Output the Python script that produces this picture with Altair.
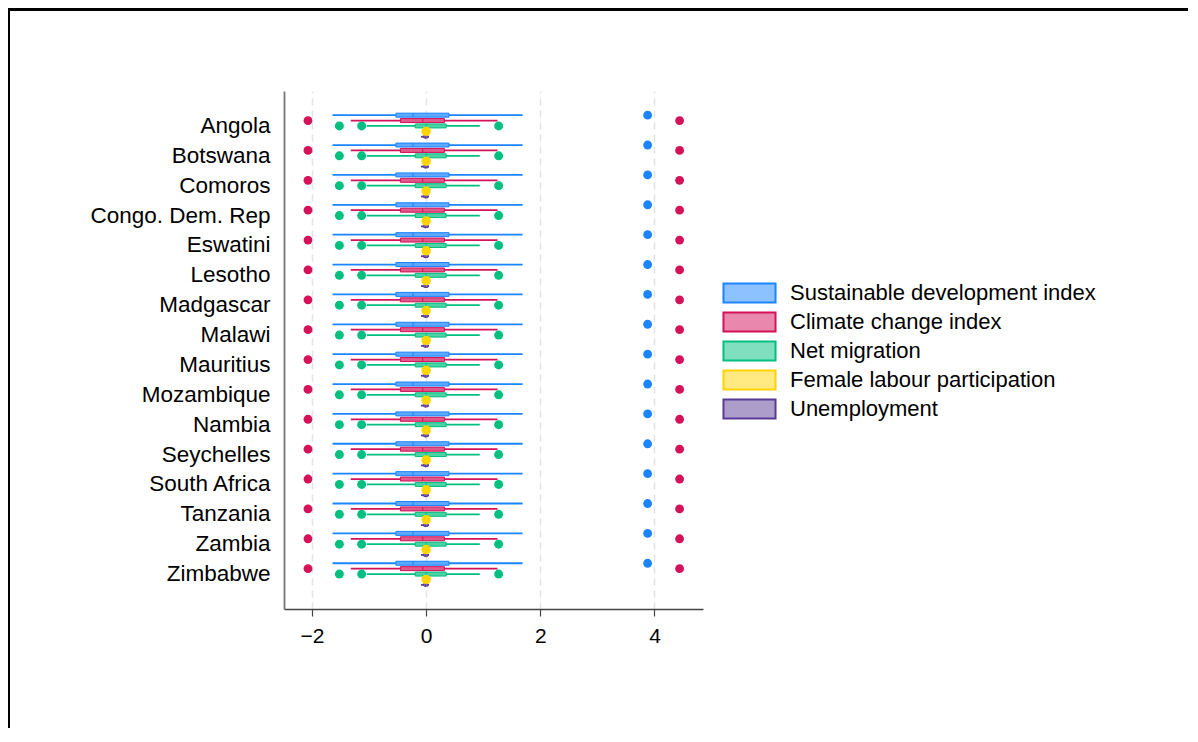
import altair as alt
import pandas as pd

countries = ["Angola", "Botswana", "Comoros", "Congo. Dem. Rep", "Eswatini", "Lesotho",
             "Madgascar", "Malawi", "Mauritius", "Mozambique", "Nambia", "Seychelles",
             "South Africa", "Tanzania", "Zambia", "Zimbabwe"]
series = ["Sustainable development index", "Climate change index", "Net migration",
          "Female labour participation", "Unemployment"]
colors = ["#1a85ff", "#d41159", "#00bf7f", "#ffd400", "#5b3a96"]
light = ["#8cc2ff", "#e988ac", "#80dfbf", "#ffe980", "#ad9dcb"]

whisker_lo = [-1.64, -1.32, -1.04, None, -0.09]
q1 = [-0.53, -0.45, -0.19, None, -0.04]
median = [-0.23, -0.06, 0.0, None, -0.01]
q3 = [0.40, 0.32, 0.35, None, 0.03]
whisker_hi = [1.69, 1.25, 0.94, None, 0.05]
outliers = [[3.88], [-2.07, 4.44], [-1.52, -1.13, 1.27], [0.0], []]
box_thick = [4, 4, 4, 0, 2.5]
dot_size = [78, 78, 80, 90, 78]
tick_values = [-2, 0, 2, 4]

FONT = "Liberation Sans"

box_rows, out_rows = [], []
for c in countries:
    for i, s in enumerate(series):
        if q1[i] is not None:
            box_rows.append({"country": c, "series": s, "lo": whisker_lo[i], "q1": q1[i],
                             "med": median[i], "q3": q3[i], "hi": whisker_hi[i],
                             "thick": box_thick[i]})
        for v in outliers[i]:
            out_rows.append({"country": c, "series": s, "v": v, "sz": dot_size[i]})
boxes = pd.DataFrame(box_rows)
outs = pd.DataFrame(out_rows)

xscale = alt.Scale(domain=[-2.49, 4.85], nice=False, zero=False)
xaxis = alt.Axis(values=tick_values, format="d", title=None)
yenc = alt.Y("country:N", title=None,
             scale=alt.Scale(domain=countries, paddingOuter=0.67, paddingInner=0))
yoff = alt.YOffset("series:N", scale=alt.Scale(domain=series, paddingOuter=0.27, paddingInner=0))
dark = alt.Scale(domain=series, range=colors)

leg = alt.Legend(title=None, orient="none", legendX=454.5, legendY=191,
                 symbolType="M-2.74,-1H2.74V1H-2.74Z", symbolSize=361,
                 symbolStrokeWidth=2, labelFontSize=22, labelFont=FONT, labelLimit=600,
                 labelColor="black", labelOffset=29.5, rowPadding=1, padding=0)

whisk = alt.Chart(boxes).mark_rule(strokeWidth=1.8).encode(
    x=alt.X("lo:Q", scale=xscale, axis=xaxis), x2="hi:Q", y=yenc, yOffset=yoff,
    stroke=alt.Stroke("series:N", scale=dark, legend=leg))

bars = alt.Chart(boxes).mark_bar(strokeWidth=1).encode(
    x=alt.X("q1:Q", scale=xscale, axis=xaxis), x2="q3:Q", y=yenc, yOffset=yoff,
    size=alt.Size("thick:Q", scale=None, legend=None),
    fill=alt.Fill("series:N", scale=alt.Scale(domain=series, range=light), legend=leg),
    stroke=alt.Stroke("series:N", scale=dark, legend=leg))

bars_tint = alt.Chart(boxes).mark_bar(opacity=0.4).encode(
    x=alt.X("q1:Q", scale=xscale, axis=xaxis), x2="q3:Q", y=yenc, yOffset=yoff,
    size=alt.Size("thick:Q", scale=None, legend=None),
    color=alt.Color("series:N", scale=dark, legend=None))

meds = alt.Chart(boxes).mark_tick(thickness=1.2, size=4, opacity=0.9).encode(
    x=alt.X("med:Q", scale=xscale, axis=xaxis), y=yenc, yOffset=yoff,
    color=alt.Color("series:N", scale=dark, legend=None))

dots = alt.Chart(outs).mark_circle(opacity=1).encode(
    x=alt.X("v:Q", scale=xscale, axis=xaxis), y=yenc, yOffset=yoff,
    size=alt.Size("sz:Q", scale=None, legend=None),
    color=alt.Color("series:N", scale=dark, legend=None))

frame_top = alt.Chart(alt.Data(values=[{"k": 1}])).mark_rule(color="black", strokeWidth=3).encode(
    x=alt.value(-276), x2=alt.value(904), y=alt.value(-81.5))
frame_left = alt.Chart(alt.Data(values=[{"k": 1}])).mark_rule(color="black", strokeWidth=2).encode(
    x=alt.value(-275), y=alt.value(-83), y2=alt.value(637))

chart = alt.layer(whisk, bars, bars_tint, meds, dots, frame_top, frame_left).properties(
    width=419, height=518,
    autosize=alt.AutoSizeParams(type="none"),
    padding={"left": 276, "top": 83, "right": 485, "bottom": 119},
    background="white",
).configure_view(strokeWidth=0).configure_axisX(
    grid=True, gridDash=[7, 5], gridColor="#e3e3e3", gridWidth=1.5,
    tickSize=7, tickColor="#444", tickWidth=1.2, labelPadding=9, labelFontSize=21,
    labelFont=FONT, labelColor="black", domainColor="#444", domainWidth=1.5,
).configure_axisY(
    ticks=False, tickSize=0, labelPadding=14, labelFontSize=22.5, labelFont=FONT,
    labelLimit=400, labelColor="black", domainColor="#777", domainWidth=1.8, grid=False,
)

chart.save("out.html", embed_options={"renderer": "svg", "actions": False})
